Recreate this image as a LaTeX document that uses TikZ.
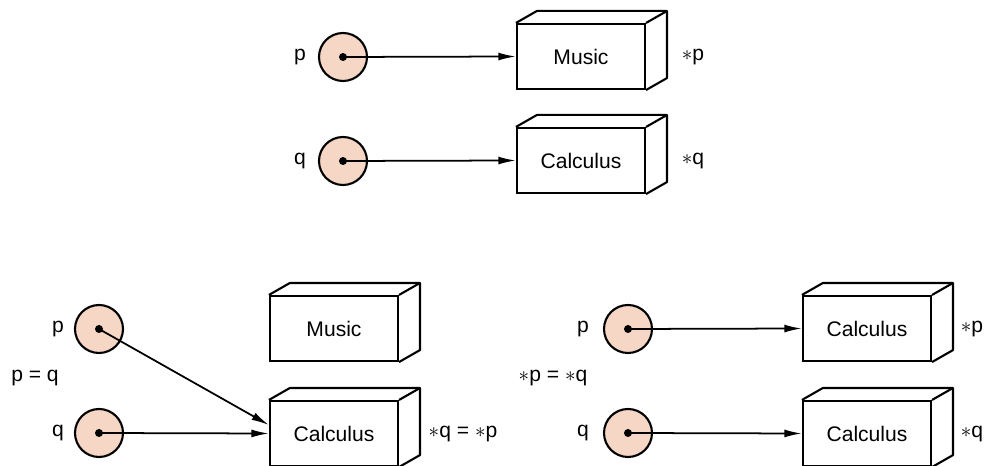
\documentclass[tikz,border=0pt]{standalone}
\usepackage{fontspec}
\setmainfont{Liberation Sans}
\usepackage{tikz}
\usetikzlibrary{arrows.meta,positioning,calc}

\definecolor{peach}{RGB}{246,214,197}

% back faces of a book box (offset 21,12)
\newcommand{\bookdepth}[1]{%
  \draw[boxline] (#1.north west) -- ++(21,12) -- ($(#1.north east)+(21,12)$)
    -- ($(#1.south east)+(21,12)$) -- (#1.south east);
  \draw[boxline] (#1.north east) -- ++(21,12);
}

\begin{document}
\begin{tikzpicture}[
    x=0.02cm, y=0.02cm,
    every node/.style={font=\fontsize{12}{14}\selectfont},
    boxline/.style={line width=1.2pt, line join=round},
    book/.style={draw, line width=1.2pt, fill=white, minimum width=2.56cm, minimum height=1.3cm, inner sep=0pt},
    ptr/.style={circle, draw, line width=1.2pt, fill=peach, minimum size=0.96cm, inner sep=0pt},
    link/.style={line width=1pt, -{Latex[length=10pt,width=4.5pt]}},
    lbl/.style={inner sep=1pt}
]
\useasboundingbox (0,0) rectangle (991,466);

% Top: p and q point to different books
\node[ptr] (tp) at (343,409) {};
\node[ptr] (tq) at (343,305) {};
\node[book] (tm) at (581,409.5) {Music};
\node[book] (tc) at (581,305.5) {Calculus};
\bookdepth{tm}
\bookdepth{tc}
\node[lbl] (tpl) at (300,409) {p};
\node[lbl] (tql) at (300,305) {q};
\node[lbl] (tps) at (693,409) {$\ast$p};
\node[lbl] (tqs) at (693,305) {$\ast$q};

% Bottom left: p = q
\node[ptr] (lp) at (99,137) {};
\node[ptr] (lq) at (99,33) {};
\node[book] (lm) at (334,137.5) {Music};
\node[book] (lc) at (334,32.5) {Calculus};
\bookdepth{lm}
\bookdepth{lc}
\node[lbl] (lpl) at (58,137) {p};
\node[lbl] (lql) at (58,33) {q};
\node[lbl] (leq) at (35,88) {p = q};
\node[lbl] (lqs) at (463,32) {$\ast$q = $\ast$p};

% Bottom right: *p = *q
\node[ptr] (rp) at (628,137) {};
\node[ptr] (rq) at (628,33) {};
\node[book] (rc1) at (867,137.5) {Calculus};
\node[book] (rc2) at (867,32.5) {Calculus};
\bookdepth{rc1}
\bookdepth{rc2}
\node[lbl] (rpl) at (583,137) {p};
\node[lbl] (rql) at (583,33) {q};
\node[lbl] (req) at (553,88) {$\ast$p = $\ast$q};
\node[lbl] (rps) at (972,137) {$\ast$p};
\node[lbl] (rqs) at (972,32) {$\ast$q};

% Links
\draw[link] (tp.center) -- (tm.west);
\draw[link] (tq.center) -- (tc.west);
\draw[link] (lp.center) -- ([yshift=4.8pt]lc.west);
\draw[link] (lq.center) -- (lc.west);
\draw[link] (rp.center) -- (rc1.west);
\draw[link] (rq.center) -- (rc2.west);

% Dots
\foreach \n in {tp,tq,lp,lq,rp,rq}
  \fill (\n.center) circle (4);

\end{tikzpicture}
\end{document}
